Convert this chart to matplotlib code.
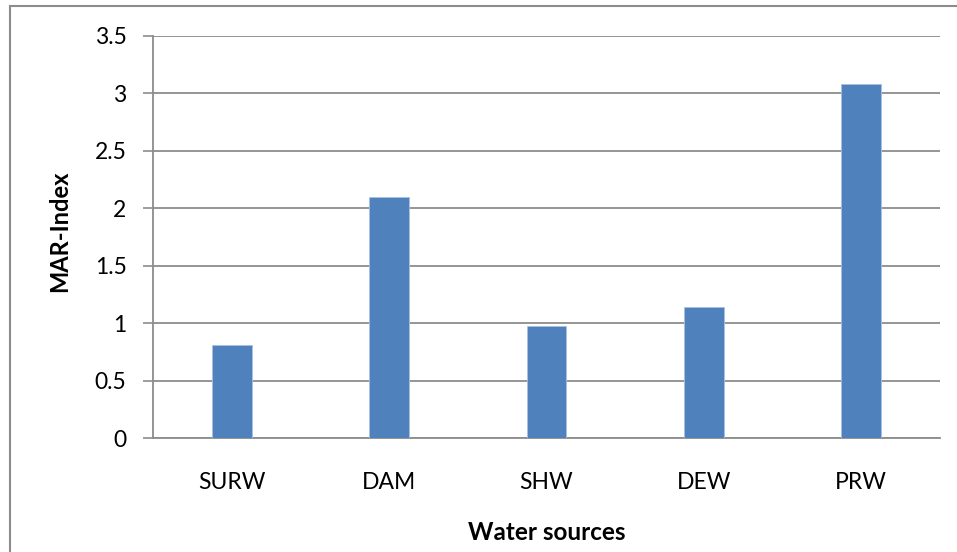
import matplotlib
matplotlib.use("Agg")
import matplotlib.pyplot as plt
from matplotlib.patches import Rectangle

categories = ["SURW", "DAM", "SHW", "DEW", "PRW"]
values = [0.81, 2.10, 0.98, 1.14, 3.08]
yticks = [0, 0.5, 1, 1.5, 2, 2.5, 3, 3.5]
ytick_labels = ["0", "0.5", "1", "1.5", "2", "2.5", "3", "3.5"]

plt.rcParams['font.family'] = ['Lato', 'DejaVu Sans']

W, H = 957, 552
fig = plt.figure(figsize=(W / 100, H / 100), dpi=100)
fig.patch.set_facecolor('white')

# outer chart border
fig.add_artist(Rectangle((10 / W, -0.1), 1.2, (H - 6) / H + 0.1, transform=fig.transFigure,
                         fill=False, edgecolor='#8c8c8c', linewidth=1.5))

left, right, top, bottom = 153, 940, 36, 438.3
ax = fig.add_axes([left / W, (H - bottom) / H, (right - left) / W, (bottom - top) / H])

x = list(range(len(categories)))
ax.bar(x, values, width=0.254, color='#4F81BD', edgecolor='#a9c1e0', linewidth=0.6, zorder=3)

ax.set_xlim(-0.5, len(categories) - 0.5)
ax.set_ylim(0, 3.5)
ax.set_yticks(yticks)
ax.set_yticklabels(ytick_labels)
ax.set_xticks(x)
ax.set_xticklabels(categories)

ax.yaxis.grid(True, color='#8c8c8c', linewidth=1.3, zorder=0)
ax.set_axisbelow(True)
for s in ['top', 'right']:
    ax.spines[s].set_visible(False)
for s in ['left', 'bottom']:
    ax.spines[s].set_color('#8c8c8c')
    ax.spines[s].set_linewidth(1.3)

ax.tick_params(axis='y', length=7, width=1.2, color='#8c8c8c', labelsize=16.5, pad=12, labelcolor='black')
ax.tick_params(axis='x', length=0, labelsize=16.5, pad=24, labelcolor='black')

fig.text(547 / W, 1 - 533 / H, "Water sources", ha='center', va='center', fontsize=17.5, fontweight='bold')
fig.text(60 / W, 1 - 231 / H, "MAR-Index", ha='center', va='center', rotation=90, fontsize=17, fontweight='bold')

fig.savefig("out.png", dpi=100, facecolor='white')
